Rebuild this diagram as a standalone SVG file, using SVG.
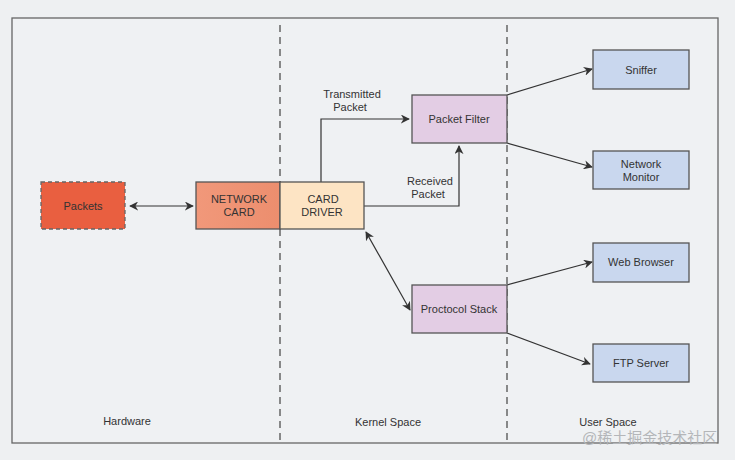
<svg xmlns="http://www.w3.org/2000/svg" width="735" height="460" viewBox="0 0 735 460">
<defs>
<style>
.box{stroke:#555;stroke-width:1.3}
.lbl{font-family:"Liberation Sans",Arial,sans-serif;font-size:11px;fill:#333;text-anchor:middle}
.con{fill:none;stroke:#333;stroke-width:1.2}
.div{stroke:#666;stroke-width:1.5;stroke-dasharray:7,5}
.blue{fill:#c9d7ee}
.purple{fill:#e3cde4}
</style>
<marker id="ah" viewBox="0 0 10 10" refX="9" refY="5" markerWidth="9" markerHeight="9" markerUnits="userSpaceOnUse" orient="auto-start-reverse">
<path d="M0,0 L10,5 L0,10 L3,5 Z" fill="#333"/>
</marker>
<linearGradient id="nc" x1="0" y1="0" x2="1" y2="0">
<stop offset="0" stop-color="#f1987a"/>
<stop offset="1" stop-color="#ec8e6e"/>
</linearGradient>
</defs>
<rect width="735" height="460" fill="#eef0f2"/>
<rect x="12" y="18" width="706" height="425" fill="#eff1f3" stroke="#666" stroke-width="1.3"/>
<g id="dividers">
<line class="div" x1="280" y1="25" x2="280" y2="443"/>
<line class="div" x1="507" y1="25" x2="507" y2="443"/>
</g>
<g id="connectors">
<line class="con" x1="130" y1="206" x2="193" y2="206" marker-start="url(#ah)" marker-end="url(#ah)"/>
<polyline class="con" points="321,182 321,119 409,119" marker-end="url(#ah)"/>
<polyline class="con" points="364,206 459,206 459,146" marker-end="url(#ah)"/>
<line class="con" x1="507" y1="95" x2="592" y2="69" marker-end="url(#ah)"/>
<line class="con" x1="507" y1="143" x2="592" y2="167" marker-end="url(#ah)"/>
<line class="con" x1="507" y1="285" x2="592" y2="262" marker-end="url(#ah)"/>
<line class="con" x1="507" y1="333" x2="590" y2="364" marker-end="url(#ah)"/>
<line class="con" x1="366" y1="232" x2="410" y2="310" marker-start="url(#ah)" marker-end="url(#ah)"/>
<text class="lbl" x="352" y="98">Transmitted</text>
<text class="lbl" x="350" y="111">Packet</text>
<text class="lbl" x="430" y="185">Received</text>
<text class="lbl" x="428" y="198">Packet</text>
</g>
<g id="packets">
<rect x="41" y="182" width="84" height="47" fill="#e95f40" stroke="#666" stroke-width="1.3" stroke-dasharray="4,3"/>
<text class="lbl" x="83" y="210">Packets</text>
</g>
<g id="network-card">
<rect class="box" x="196" y="182" width="84" height="47" fill="url(#nc)"/>
<text class="lbl" x="239" y="203">NETWORK</text>
<text class="lbl" x="239" y="216">CARD</text>
</g>
<g id="card-driver">
<rect class="box" x="280" y="182" width="84" height="47" fill="#fde4c4"/>
<text class="lbl" x="323" y="203">CARD</text>
<text class="lbl" x="322" y="216">DRIVER</text>
</g>
<g id="packet-filter">
<rect class="box purple" x="412" y="95" width="95" height="48"/>
<text class="lbl" x="459" y="123">Packet Filter</text>
</g>
<g id="protocol-stack">
<rect class="box purple" x="412" y="285" width="95" height="48"/>
<text class="lbl" x="459" y="313">Proctocol Stack</text>
</g>
<g id="sniffer">
<rect class="box blue" x="593" y="50" width="96" height="39"/>
<text class="lbl" x="641" y="74">Sniffer</text>
</g>
<g id="network-monitor">
<rect class="box blue" x="593" y="151" width="96" height="38"/>
<text class="lbl" x="641" y="168">Network</text>
<text class="lbl" x="641" y="181">Monitor</text>
</g>
<g id="web-browser">
<rect class="box blue" x="593" y="243" width="96" height="39"/>
<text class="lbl" x="641" y="266">Web Browser</text>
</g>
<g id="ftp-server">
<rect class="box blue" x="593" y="344" width="96" height="38"/>
<text class="lbl" x="641" y="367">FTP Server</text>
</g>
<g id="regions">
<text class="lbl" x="127" y="425">Hardware</text>
<text class="lbl" x="388" y="426">Kernel Space</text>
<text class="lbl" x="608" y="426">User Space</text>
</g>
<text x="582" y="443" font-family="'Liberation Sans','Noto Sans CJK SC',sans-serif" font-size="15" fill="#b4b6b9">@稀土掘金技术社区</text>
</svg>
